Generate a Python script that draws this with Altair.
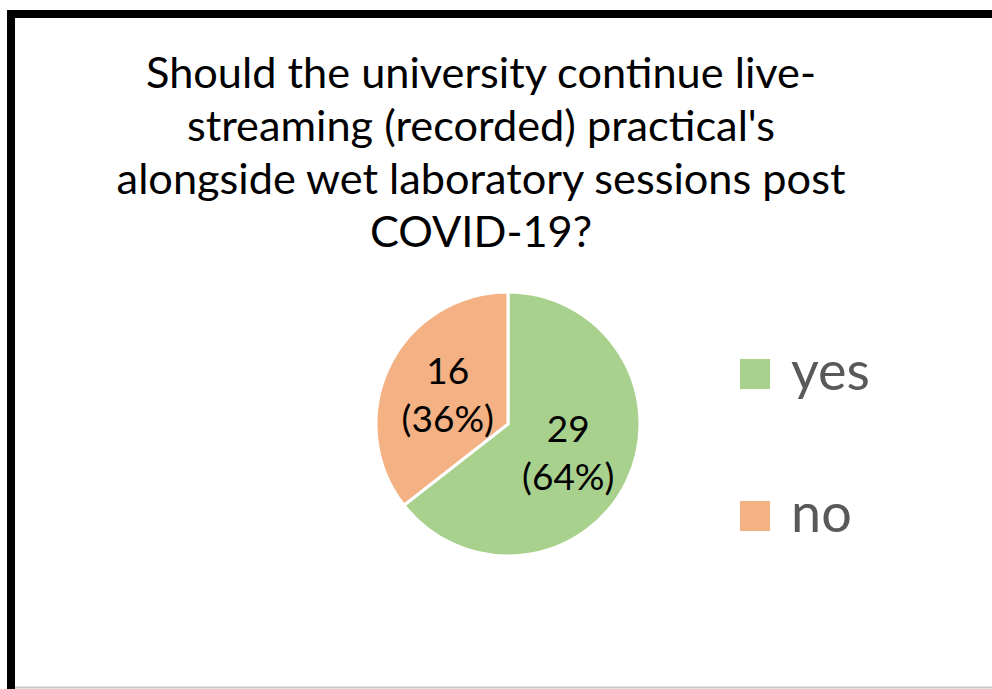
import altair as alt
import pandas as pd

categories = ["yes", "no"]
counts = [29, 16]
percents = [64, 36]
colors = ["#A9D18E", "#F4B183"]
title_lines = [
    "Should the university continue live-",
    "streaming (recorded) practical's",
    "alongside wet laboratory sessions post",
    "COVID-19?",
]

df = pd.DataFrame({
    "answer": categories,
    "count": counts,
    "order": list(range(len(categories))),
    "label": [f"{c}\n({p}%)" for c, p in zip(counts, percents)],
})

FONT = "Lato"
W, H = 992, 689
CX, CY, R = 508, 424, 132

base = alt.Chart(df)

pie = base.mark_arc(outerRadius=R, stroke="white", strokeWidth=3).encode(
    theta=alt.Theta("count:Q", stack=True),
    order=alt.Order("order:Q"),
    color=alt.Color(
        "answer:N",
        scale=alt.Scale(domain=categories, range=colors),
        legend=alt.Legend(
            title=None, orient="none", legendX=728, legendY=347,
            symbolType="square", symbolSize=900, symbolStrokeWidth=0,
            labelFontSize=54, labelFont=FONT, labelColor="#595959",
            labelOffset=9, rowPadding=88, padding=0,
        ),
    ),
    x=alt.value(CX), y=alt.value(CY),
)

labels = base.mark_text(
    radius=67, fontSize=37, font=FONT, color="black",
    lineBreak="\n", lineHeight=48, baseline="middle", align="center", dy=-22,
).encode(
    theta=alt.Theta("count:Q", stack=True),
    order=alt.Order("order:Q"),
    text="label:N",
    x=alt.value(CX), y=alt.value(CY),
)

title = alt.Chart(pd.DataFrame({"t": ["\n".join(title_lines)]})).mark_text(
    fontSize=43.3, font=FONT, color="black", lineBreak="\n", lineHeight=53,
    baseline="alphabetic", align="center",
).encode(text="t:N", x=alt.value(481), y=alt.value(88))

frame = pd.DataFrame({"k": [0]})
top_bar = alt.Chart(frame).mark_rule(color="black", strokeWidth=8).encode(
    x=alt.value(7), x2=alt.value(W), y=alt.value(14))
left_bar = alt.Chart(frame).mark_rule(color="black", strokeWidth=8).encode(
    x=alt.value(11), y=alt.value(10), y2=alt.value(H))
bottom_line = alt.Chart(frame).mark_rule(color="#c8c8c8", strokeWidth=2).encode(
    x=alt.value(15), x2=alt.value(W), y=alt.value(687.5))

chart = alt.layer(pie, labels, title, top_bar, left_bar, bottom_line).properties(
    width=W, height=H, padding=0, autosize=alt.AutoSizeParams(type="none"),
    background="white",
).configure_view(stroke=None)

chart.save("out.html", embed_options={"renderer": "svg", "actions": False})
